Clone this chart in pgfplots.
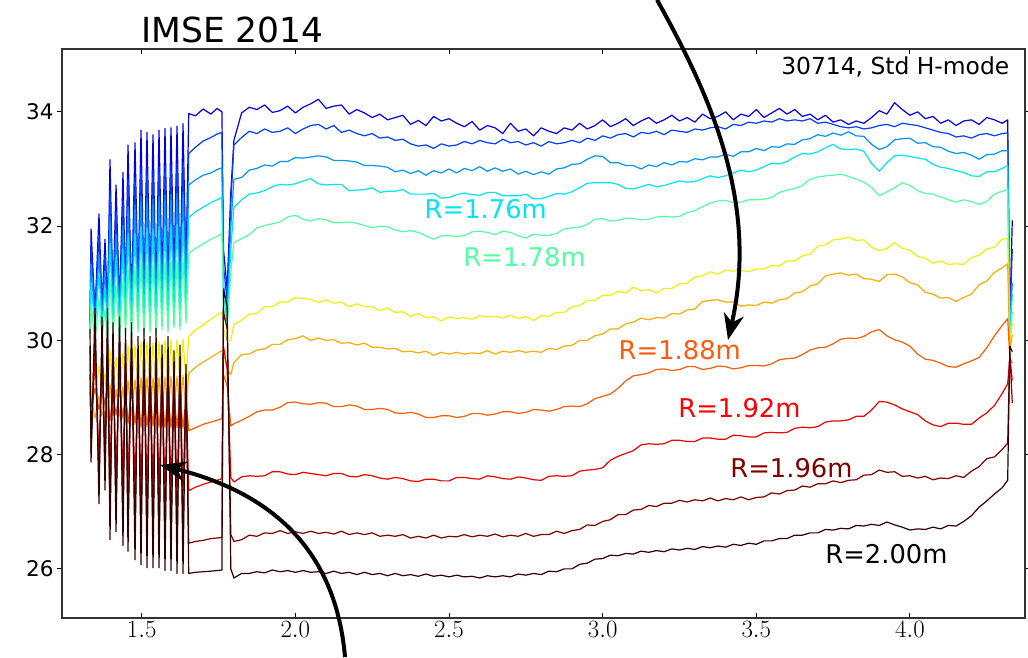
\documentclass[border=0pt]{standalone}
\usepackage{pgfplots}
\usepackage{pgfplotstable}
\pgfplotsset{compat=1.18}
\usepackage{fontspec}
\setmainfont{DejaVu Sans}
\usetikzlibrary{arrows.meta}

% channel colours, inner (R=1.70m) to outer (R=2.00m)
\definecolor{r1}{rgb}{0.00,0.00,0.92}
\definecolor{r2}{rgb}{0.00,0.24,1.00}
\definecolor{r3}{rgb}{0.00,0.58,1.00}
\definecolor{r4}{rgb}{0.00,0.90,0.95}
\definecolor{r5}{rgb}{0.33,1.00,0.63}
\definecolor{r6}{rgb}{0.93,0.95,0.00}
\definecolor{r7}{rgb}{0.98,0.68,0.00}
\definecolor{r8}{rgb}{1.00,0.36,0.00}
\definecolor{r9}{rgb}{0.94,0.00,0.00}
\definecolor{r10}{rgb}{0.50,0.00,0.00}
\definecolor{r11}{rgb}{0.20,0.00,0.00}

% MSE pitch-angle traces (deg) vs time (s), one column per radius
\pgfplotstableread{
t L1 L2 L3 L4 L5 L6 L7 L8 L9 L10 L11
1.3318 30.35 30.30 30.25 30.20 30.10 29.50 29.20 29.10 29.40 29.90 30.20
1.3351 31.95 31.64 31.33 31.02 30.63 29.48 28.97 28.85 28.34 28.03 27.87
1.3481 30.48 30.45 30.33 30.20 29.98 29.05 28.64 29.16 29.68 30.20 30.56
1.3610 32.21 31.84 31.51 31.17 30.74 29.56 29.03 28.79 27.98 27.44 27.14
1.3708 30.59 30.54 30.40 30.26 30.03 29.09 28.67 29.14 29.61 30.08 30.41
1.3806 31.77 31.49 31.21 30.92 30.55 29.43 28.93 28.89 28.10 27.63 27.38
1.3887 30.48 30.45 30.33 30.20 29.98 29.05 28.64 29.16 29.68 30.20 30.56
1.3968 33.16 32.62 32.17 31.70 31.16 29.83 29.24 28.59 27.66 26.92 26.51
1.4066 30.67 30.60 30.45 30.31 30.06 29.11 28.68 29.12 29.56 30.01 30.31
1.4164 32.72 32.26 31.86 31.45 30.97 29.71 29.14 28.69 27.73 27.04 26.65
1.4278 30.59 30.54 30.40 30.26 30.03 29.09 28.67 29.14 29.61 30.08 30.41
1.4391 32.94 32.44 32.01 31.58 31.07 29.77 29.19 28.64 27.61 26.84 26.41
1.4473 30.74 30.66 30.50 30.35 30.09 29.13 28.70 29.11 29.51 29.93 30.21
1.4554 33.42 32.82 32.34 31.84 31.28 29.91 29.30 28.54 27.56 26.77 26.31
1.4668 30.67 30.60 30.45 30.31 30.06 29.11 28.68 29.12 29.56 30.01 30.31
1.4782 33.46 32.85 32.37 31.86 31.29 29.92 29.31 28.53 27.49 26.65 26.16
1.4880 30.85 30.75 30.58 30.41 30.14 29.16 28.72 29.08 29.44 29.81 30.07
1.4977 33.68 33.03 32.52 31.99 31.39 29.98 29.35 28.48 27.44 26.57 26.07
1.5075 30.74 30.66 30.50 30.35 30.09 29.13 28.70 29.11 29.51 29.93 30.21
1.5172 33.64 33.00 32.49 31.97 31.37 29.97 29.35 28.49 27.42 26.53 26.02
1.5270 30.85 30.75 30.58 30.41 30.14 29.16 28.72 29.08 29.44 29.81 30.07
1.5368 33.60 32.97 32.47 31.95 31.36 29.96 29.34 28.50 27.42 26.53 26.02
1.5466 30.74 30.66 30.50 30.35 30.09 29.13 28.70 29.11 29.51 29.93 30.21
1.5563 33.68 33.03 32.52 31.99 31.39 29.98 29.35 28.48 27.42 26.53 26.02
1.5661 30.96 30.83 30.65 30.47 30.19 29.19 28.75 29.06 29.36 29.69 29.92
1.5758 33.71 33.06 32.54 32.01 31.41 30.00 29.36 28.47 27.39 26.49 25.97
1.5856 30.85 30.75 30.58 30.41 30.14 29.16 28.72 29.08 29.44 29.81 30.07
1.5953 33.72 33.07 32.55 32.02 31.42 30.01 29.37 28.47 27.39 26.49 25.97
1.6051 31.03 30.89 30.70 30.51 30.22 29.21 28.76 29.04 29.31 29.61 29.82
1.6149 33.75 33.09 32.57 32.03 31.42 30.01 29.37 28.47 27.37 26.45 25.92
1.6246 30.96 30.83 30.65 30.47 30.19 29.19 28.75 29.06 29.36 29.69 29.92
1.6344 33.79 33.12 32.59 32.05 31.44 30.02 29.38 28.46 27.37 26.45 25.92
1.6441 31.22 31.04 30.83 30.61 30.31 29.27 28.81 29.00 29.19 29.41 29.58
1.6530 33.97 33.27 32.72 32.15 31.52 30.07 29.42 28.42 27.37 26.45 25.92
1.6750 33.93 33.38 32.81 32.25 31.61 30.18 29.53 28.47 27.43 26.48 25.94
1.7000 34.05 33.49 32.89 32.33 31.69 30.27 29.62 28.53 27.48 26.50 25.95
1.7250 33.96 33.55 32.93 32.41 31.77 30.37 29.70 28.57 27.52 26.53 25.96
1.7450 34.06 33.61 32.99 32.46 31.82 30.44 29.77 28.60 27.55 26.54 25.97
1.7610 34.00 33.64 33.02 32.50 31.87 30.49 29.82 28.63 27.58 26.55 25.98
1.7660 31.60 31.30 31.00 30.80 30.60 30.20 29.80 29.40 29.90 30.50 30.90
1.7780 30.90 30.70 30.50 30.30 30.20 30.00 29.50 29.20 29.50 30.20 30.60
1.7900 32.60 32.40 32.00 31.60 31.20 30.00 29.40 28.50 27.60 26.60 26.00
1.800 33.50 33.42 32.82 32.33 31.71 30.28 29.61 28.54 27.52 26.48 25.84
1.825 33.98 33.55 32.85 32.46 31.78 30.35 29.75 28.60 27.61 26.51 25.92
1.850 34.08 33.66 32.98 32.56 31.85 30.46 29.76 28.67 27.63 26.59 25.92
1.875 34.04 33.62 33.01 32.58 31.97 30.47 29.83 28.75 27.62 26.57 25.95
1.900 34.12 33.70 33.07 32.62 32.01 30.59 29.85 28.78 27.63 26.63 25.93
1.925 33.99 33.64 33.05 32.69 32.04 30.59 29.93 28.78 27.70 26.62 25.98
1.950 34.02 33.66 33.13 32.73 32.07 30.67 29.93 28.83 27.70 26.67 25.95
1.975 34.10 33.72 33.13 32.72 32.16 30.67 30.01 28.91 27.66 26.62 25.97
2.000 33.98 33.62 33.20 32.74 32.19 30.75 30.03 28.92 27.65 26.65 25.94
2.025 34.08 33.70 33.19 32.79 32.12 30.73 30.08 28.89 27.69 26.62 25.97
2.050 34.14 33.76 33.21 32.83 32.09 30.72 30.00 28.88 27.67 26.66 25.94
2.075 34.22 33.78 33.23 32.74 32.13 30.66 30.04 28.91 27.65 26.62 25.95
2.100 34.06 33.70 33.21 32.72 32.11 30.71 30.00 28.90 27.63 26.64 25.92
2.125 34.10 33.76 33.15 32.73 32.06 30.65 30.01 28.84 27.67 26.61 25.96
2.150 34.12 33.64 33.15 32.73 32.06 30.67 29.95 28.84 27.67 26.66 25.92
2.175 33.96 33.68 33.14 32.62 32.07 30.59 29.96 28.87 27.62 26.60 25.94
2.200 34.04 33.62 33.12 32.63 32.05 30.64 29.92 28.85 27.61 26.63 25.90
2.225 33.98 33.58 33.06 32.64 32.01 30.59 29.95 28.79 27.65 26.60 25.94
2.250 33.90 33.62 33.06 32.67 31.97 30.59 29.88 28.79 27.63 26.63 25.90
2.275 33.96 33.54 33.05 32.59 32.00 30.52 29.88 28.81 27.59 26.57 25.92
2.300 33.86 33.56 33.03 32.61 31.99 30.57 29.85 28.79 27.57 26.59 25.88
2.325 33.90 33.50 32.95 32.61 31.93 30.49 29.86 28.73 27.60 26.57 25.92
2.350 33.94 33.52 32.98 32.64 31.90 30.50 29.80 28.72 27.58 26.60 25.88
2.375 33.78 33.44 32.92 32.56 31.92 30.42 29.81 28.74 27.54 26.54 25.90
2.400 33.85 33.40 32.97 32.56 31.89 30.47 29.78 28.71 27.53 26.57 25.87
2.425 33.76 33.42 32.89 32.56 31.83 30.40 29.81 28.65 27.57 26.54 25.91
2.450 33.92 33.36 32.97 32.57 31.77 30.41 29.74 28.65 27.57 26.59 25.87
2.475 33.84 33.44 32.93 32.49 31.83 30.34 29.79 28.68 27.54 26.54 25.89
2.500 33.88 33.40 33.00 32.50 31.83 30.41 29.76 28.68 27.54 26.57 25.86
2.525 33.80 33.42 32.93 32.55 31.82 30.38 29.79 28.65 27.60 26.56 25.89
2.550 33.74 33.48 33.01 32.58 31.83 30.40 29.76 28.67 27.60 26.60 25.86
2.575 33.83 33.44 32.97 32.55 31.90 30.37 29.78 28.72 27.58 26.56 25.87
2.600 33.68 33.50 33.04 32.54 31.91 30.43 29.77 28.72 27.57 26.59 25.84
2.625 33.76 33.46 32.96 32.59 31.89 30.41 29.82 28.69 27.63 26.57 25.88
2.650 33.72 33.44 33.02 32.59 31.85 30.42 29.76 28.71 27.61 26.61 25.86
2.675 33.62 33.52 32.96 32.53 31.91 30.39 29.81 28.75 27.58 26.56 25.88
2.700 33.80 33.46 33.00 32.53 31.89 30.44 29.79 28.75 27.57 26.59 25.86
2.725 33.66 33.48 32.91 32.53 31.83 30.38 29.82 28.72 27.61 26.57 25.91
2.750 33.70 33.42 32.96 32.56 31.79 30.42 29.79 28.74 27.59 26.62 25.89
2.775 33.58 33.46 32.90 32.48 31.86 30.35 29.81 28.79 27.56 26.57 25.92
2.800 33.72 33.40 32.95 32.48 31.84 30.43 29.79 28.78 27.55 26.60 25.90
2.825 33.66 33.48 32.91 32.52 31.84 30.42 29.86 28.76 27.62 26.60 25.96
2.850 33.62 33.44 33.00 32.57 31.87 30.49 29.84 28.79 27.63 26.66 25.95
2.875 33.72 33.46 33.02 32.56 31.95 30.49 29.90 28.84 27.62 26.62 26.00
2.900 33.68 33.50 33.08 32.60 31.97 30.59 29.91 28.85 27.63 26.67 26.00
2.925 33.80 33.46 33.09 32.67 31.98 30.61 30.00 28.84 27.71 26.69 26.08
2.950 33.70 33.54 33.17 32.75 32.03 30.70 30.00 28.89 27.73 26.77 26.10
2.975 33.76 33.50 33.23 32.76 32.12 30.70 30.08 28.98 27.74 26.76 26.17
3.000 33.86 33.58 33.22 32.76 32.13 30.79 30.11 29.02 27.77 26.83 26.18
3.025 33.74 33.54 33.11 32.76 32.09 30.79 30.20 29.06 27.90 26.86 26.24
3.050 33.80 33.60 33.11 32.73 32.10 30.86 30.20 29.16 27.97 26.95 26.23
3.075 33.88 33.62 33.06 32.66 32.14 30.83 30.29 29.29 28.02 26.95 26.27
3.100 33.76 33.56 33.06 32.65 32.13 30.93 30.32 29.38 28.07 27.03 26.26
3.125 33.84 33.64 33.00 32.69 32.11 30.87 30.39 29.40 28.17 27.04 26.31
3.150 33.90 33.62 33.07 32.73 32.12 30.89 30.36 29.43 28.19 27.11 26.29
3.175 33.80 33.66 33.04 32.69 32.16 30.83 30.40 29.49 28.18 27.09 26.32
3.200 33.86 33.60 33.11 32.71 32.17 30.91 30.39 29.50 28.19 27.15 26.30
3.225 33.94 33.68 33.07 32.75 32.16 30.91 30.47 29.47 28.25 27.15 26.35
3.250 33.84 33.66 33.13 32.79 32.17 30.99 30.46 29.49 28.25 27.20 26.33
3.275 33.90 33.64 33.12 32.77 32.24 31.00 30.53 29.54 28.23 27.17 26.36
3.300 33.82 33.70 33.18 32.78 32.27 31.11 30.55 29.54 28.23 27.21 26.34
3.325 33.96 33.68 33.16 32.83 32.34 31.13 30.68 29.49 28.29 27.19 26.39
3.350 33.88 33.72 33.21 32.88 32.40 31.20 30.70 29.51 28.29 27.24 26.37
3.375 33.92 33.74 33.21 32.85 32.44 31.16 30.71 29.55 28.27 27.19 26.40
3.400 34.00 33.70 33.26 32.88 32.45 31.23 30.67 29.54 28.27 27.23 26.38
3.425 33.86 33.78 33.22 32.93 32.41 31.21 30.67 29.50 28.34 27.21 26.43
3.450 33.96 33.76 33.30 32.98 32.42 31.23 30.60 29.52 28.33 27.26 26.41
3.475 33.92 33.82 33.30 32.95 32.46 31.20 30.62 29.56 28.31 27.21 26.45
3.500 34.04 33.80 33.36 32.98 32.46 31.25 30.61 29.56 28.31 27.25 26.43
3.525 33.90 33.84 33.32 33.04 32.47 31.25 30.67 29.55 28.38 27.26 26.49
3.550 33.98 33.82 33.39 33.10 32.50 31.31 30.65 29.59 28.39 27.33 26.49
3.575 34.06 33.88 33.38 33.09 32.59 31.30 30.71 29.66 28.38 27.31 26.53
3.600 33.96 33.84 33.44 33.13 32.63 31.39 30.73 29.68 28.39 27.37 26.53
3.625 34.04 33.86 33.43 33.21 32.66 31.39 30.83 29.69 28.46 27.38 26.59
3.650 33.92 33.84 33.51 33.27 32.71 31.48 30.85 29.75 28.48 27.45 26.59
3.675 33.96 33.88 33.53 33.26 32.82 31.51 30.95 29.83 28.47 27.43 26.63
3.700 33.86 33.80 33.60 33.30 32.86 31.65 30.99 29.87 28.49 27.49 26.63
3.725 33.94 33.82 33.57 33.37 32.88 31.67 31.13 29.88 28.57 27.49 26.69
3.750 33.82 33.78 33.63 33.43 32.89 31.76 31.16 29.94 28.59 27.54 26.68
3.775 33.86 33.74 33.59 33.35 32.91 31.77 31.18 30.02 28.59 27.51 26.71
3.800 33.78 33.72 33.65 33.34 32.87 31.81 31.14 30.04 28.61 27.55 26.70
3.825 33.84 33.74 33.58 33.35 32.82 31.75 31.16 30.03 28.67 27.56 26.76
3.850 33.80 33.70 33.57 33.31 32.77 31.76 31.08 30.07 28.67 27.64 26.75
3.875 33.90 33.72 33.43 33.10 32.68 31.63 31.07 30.15 28.78 27.65 26.78
3.900 34.02 33.76 33.34 32.96 32.53 31.57 31.03 30.19 28.93 27.73 26.76
3.925 33.96 33.78 33.39 33.11 32.60 31.61 31.15 30.08 28.92 27.69 26.82
3.950 34.16 33.74 33.51 33.23 32.67 31.71 31.16 30.01 28.87 27.70 26.77
3.975 34.04 33.80 33.53 33.24 32.76 31.61 31.11 29.97 28.80 27.62 26.73
4.000 33.94 33.78 33.54 33.22 32.71 31.58 31.01 29.90 28.75 27.63 26.68
4.025 34.00 33.76 33.45 33.19 32.62 31.47 30.97 29.76 28.70 27.59 26.70
4.050 33.88 33.72 33.46 33.17 32.57 31.44 30.84 29.67 28.59 27.62 26.69
4.075 33.92 33.68 33.39 33.08 32.56 31.35 30.81 29.65 28.52 27.56 26.73
4.100 33.80 33.64 33.38 33.03 32.51 31.39 30.74 29.60 28.49 27.59 26.70
4.125 33.86 33.62 33.31 33.01 32.46 31.33 30.75 29.54 28.55 27.58 26.76
4.150 33.76 33.56 33.27 32.97 32.42 31.34 30.68 29.53 28.55 27.63 26.75
4.175 33.84 33.58 33.29 32.94 32.46 31.33 30.75 29.59 28.53 27.60 26.83
4.200 33.86 33.54 33.24 32.88 32.43 31.45 30.81 29.64 28.53 27.71 26.93
4.225 33.78 33.60 33.17 32.87 32.38 31.49 30.97 29.70 28.64 27.79 27.08
4.250 33.90 33.62 33.25 32.95 32.43 31.60 31.04 29.87 28.73 27.93 27.19
4.275 33.86 33.58 33.26 32.95 32.56 31.63 31.19 30.08 28.86 27.96 27.31
4.300 33.80 33.62 33.32 33.01 32.61 31.77 31.27 30.26 29.07 28.09 27.42
4.318 33.86 33.63 33.32 33.06 32.64 31.78 31.34 30.38 29.24 28.20 27.55
4.325 30.40 30.30 30.20 30.10 30.00 29.90 29.80 29.70 29.70 29.80 29.90
4.333 32.10 31.60 31.00 30.80 30.50 30.30 30.10 29.60 29.30 28.90 29.80
}\imse

\begin{document}
\begin{tikzpicture}
\begin{axis}[
  scale only axis,
  width=963pt, height=569pt,
  xmin=1.2406, xmax=4.3744,
  ymin=25.14, ymax=35.10,
  xtick={1.5,2.0,2.5,3.0,3.5,4.0},
  xticklabels={$1.5$,$2.0$,$2.5$,$3.0$,$3.5$,$4.0$},
  ytick={26,28,30,32,34},
  yticklabels={26,28,30,32,34},
  xtick align=inside, ytick align=outside,
  major tick length=5pt,
  tick style={black, line width=1pt},
  axis line style={black!80, line width=1.2pt},
  xticklabel style={font=\fontsize{23.5}{26}\selectfont},
  yticklabel style={font=\fontsize{21.5}{24}\selectfont},
  clip=false,
  every axis plot/.append style={line width=1.2pt, line join=round},
]
\addplot[r1]  table[x=t,y=L1]  {\imse};
\addplot[r2]  table[x=t,y=L2]  {\imse};
\addplot[r3]  table[x=t,y=L3]  {\imse};
\addplot[r4]  table[x=t,y=L4]  {\imse};
\addplot[r5]  table[x=t,y=L5]  {\imse};
\addplot[r6]  table[x=t,y=L6]  {\imse};
\addplot[r7]  table[x=t,y=L7]  {\imse};
\addplot[r8]  table[x=t,y=L8]  {\imse};
\addplot[r9]  table[x=t,y=L9]  {\imse};
\addplot[r10] table[x=t,y=L10] {\imse};
\addplot[r11] table[x=t,y=L11] {\imse};

% channel labels
\begin{scope}[every node/.style={anchor=base west, inner sep=0pt, font=\fontsize{25.8}{28}\selectfont}]
\node[text=r4] at (axis cs:2.4203,32.138) {R=1.76m};
\node[text=r5] at (axis cs:2.5466,31.285) {R=1.78m};
\node[text={rgb,1:red,1.00;green,0.35;blue,0.04}] at (axis cs:3.0516,29.657) {R=1.88m};
\node[text={rgb,1:red,1.00;green,0.00;blue,0.00}] at (axis cs:3.2459,28.641) {R=1.92m};
\node[text=r10] at (axis cs:3.4151,27.608) {R=1.96m};
\node[text=black] at (axis cs:3.7242,26.102) {R=2.00m};
\end{scope}

\node[anchor=base east, inner sep=0pt, font=\fontsize{23.4}{26}\selectfont]
  at (rel axis cs:0.9839,0.9556) {30714, Std H-mode};
\node[anchor=base west, inner sep=0pt, font=\fontsize{34.5}{37}\selectfont]
  at (rel axis cs:0.0820,1.0111) {IMSE 2014};

% pointers
\draw[line width=4pt, -{Stealth[length=26pt,width=20pt,inset=8pt]}]
  (axis cs:3.1769,35.961) .. controls (axis cs:3.3394,34.385) and (axis cs:3.5121,32.459) .. (axis cs:3.4079,30.007);
\draw[line width=4pt, -{Stealth[length=26pt,width=20pt,inset=8pt]}]
  (axis cs:2.1616,24.455) .. controls (axis cs:2.1290,26.504) and (axis cs:1.8850,27.380) .. (axis cs:1.5596,27.818);
\end{axis}
\pgfresetboundingbox
\useasboundingbox (-62pt,-39pt) rectangle (966pt,618pt);
\end{tikzpicture}
\end{document}
